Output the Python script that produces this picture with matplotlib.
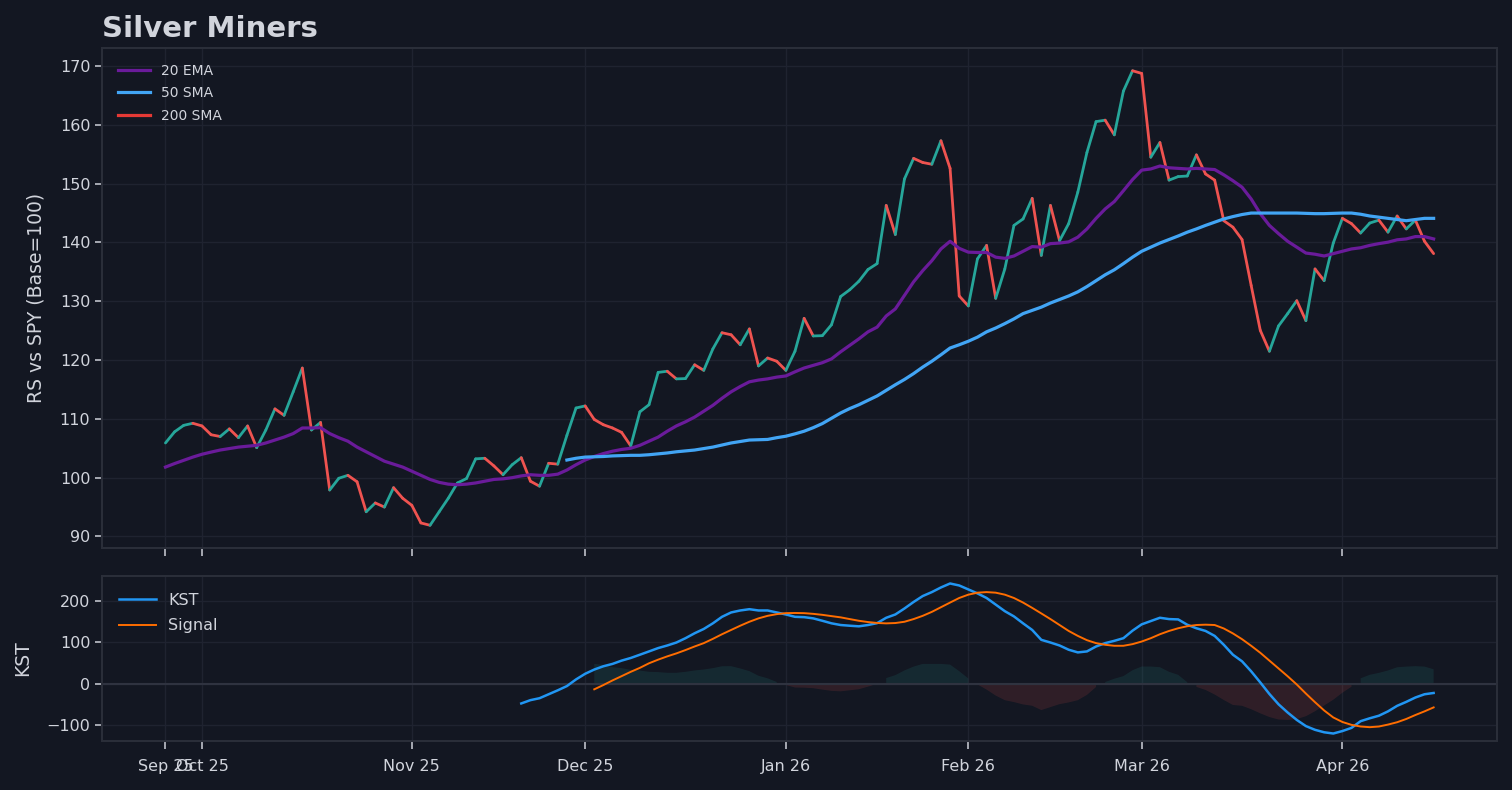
import numpy as np
import pandas as pd
import matplotlib
matplotlib.use("Agg")
import matplotlib.pyplot as plt

# trading days shown on the x axis (plotted by index, no gaps)
holidays = ['2025-11-27', '2025-12-25', '2026-01-01', '2026-01-19',
            '2026-02-16', '2026-04-03']
dates = pd.bdate_range('2025-09-25', periods=140, freq='C', holidays=holidays)

# relative strength vs SPY (base = 100)
rs = [
    105.9, 107.8, 108.9, 109.25, 108.8, 107.3, 107.0, 108.3, 106.8, 108.8,
    105.1, 108.1, 111.7, 110.6, 114.6, 118.65, 108.1, 109.4, 97.9, 99.9,
    100.4, 99.3, 94.2, 95.7, 95.0, 98.3, 96.5, 95.3, 92.3, 91.9,
    94.2, 96.5, 99.1, 99.85, 103.2, 103.3, 102.0, 100.5, 102.2, 103.4,
    99.4, 98.55, 102.45, 102.3, 107.2, 111.85, 112.2, 109.9, 109.0, 108.45,
    107.7, 105.4, 111.2, 112.4, 117.9, 118.1, 116.8, 116.85, 119.2, 118.25,
    121.9, 124.65, 124.3, 122.6, 125.3, 119.0, 120.35, 119.8, 118.25, 121.5,
    127.1, 124.1, 124.15, 126.0, 130.8, 131.95, 133.4, 135.4, 136.4, 146.3,
    141.35, 150.8, 154.3, 153.6, 153.3, 157.3, 152.6, 130.9, 129.2, 137.2,
    139.5, 130.5, 135.5, 142.9, 144.0, 147.5, 137.8, 146.3, 140.3, 143.2,
    148.55, 155.3, 160.55, 160.8, 158.3, 165.75, 169.2, 168.75, 154.5, 157.0,
    150.6, 151.2, 151.3, 154.9, 151.65, 150.6, 143.7, 142.6, 140.5, 132.7,
    125.05, 121.5, 125.8, 127.9, 130.1, 126.7, 135.5, 133.5, 139.9, 144.1,
    143.2, 141.6, 143.3, 143.8, 141.75, 144.5, 142.3, 143.8, 140.2, 138.1,
]

ema20 = [
    101.8, 102.4, 102.95, 103.5, 103.98, 104.35, 104.7, 104.95, 105.2, 105.35,
    105.5, 105.9, 106.4, 106.9, 107.5, 108.45, 108.45, 108.5, 107.5, 106.8,
    106.2, 105.2, 104.4, 103.6, 102.8, 102.3, 101.8, 101.1, 100.4, 99.7,
    99.2, 98.9, 98.8, 98.9, 99.1, 99.4, 99.7, 99.8, 100.0, 100.3,
    100.5, 100.4, 100.4, 100.6, 101.3, 102.2, 103.0, 103.6, 104.1, 104.5,
    104.8, 105.0, 105.5, 106.2, 106.9, 107.9, 108.8, 109.5, 110.3, 111.3,
    112.3, 113.5, 114.6, 115.5, 116.3, 116.6, 116.8, 117.1, 117.3, 118.0,
    118.65, 119.1, 119.55, 120.2, 121.4, 122.5, 123.6, 124.8, 125.6, 127.5,
    128.7, 131.0, 133.3, 135.2, 136.9, 138.9, 140.2, 139.0, 138.35, 138.3,
    138.3, 137.5, 137.3, 137.7, 138.5, 139.3, 139.2, 139.8, 139.9, 140.1,
    140.9, 142.3, 144.1, 145.7, 146.95, 148.8, 150.7, 152.3, 152.5, 153.0,
    152.7, 152.6, 152.5, 152.6, 152.5, 152.4, 151.5, 150.5, 149.4, 147.4,
    144.9, 142.9, 141.5, 140.2, 139.2, 138.2, 138.0, 137.7, 138.1, 138.5,
    138.9, 139.1, 139.5, 139.8, 140.05, 140.45, 140.6, 141.0, 141.0, 140.6,
]

sma50_start = 44
sma50 = [
    103.0, 103.3, 103.5, 103.55, 103.6, 103.7,
    103.75, 103.8, 103.8, 103.9, 104.05, 104.2, 104.4, 104.55, 104.7, 104.95,
    105.2, 105.55, 105.9, 106.15, 106.4, 106.45, 106.5, 106.8, 107.05, 107.45,
    107.9, 108.5, 109.2, 110.1, 111.0, 111.75, 112.4, 113.15, 113.9, 114.85,
    115.8, 116.7, 117.7, 118.8, 119.8, 120.9, 122.05, 122.6, 123.2, 123.9,
    124.8, 125.45, 126.2, 127.0, 127.9, 128.45, 129.0, 129.7, 130.3, 130.9,
    131.6, 132.5, 133.5, 134.5, 135.35, 136.4, 137.5, 138.5, 139.2, 139.9,
    140.5, 141.1, 141.75, 142.3, 142.9, 143.45, 144.0, 144.4, 144.75, 145.0,
    145.0, 145.0, 145.0, 145.0, 145.0, 144.95, 144.9, 144.9, 144.95, 145.0,
    145.0, 144.8, 144.5, 144.3, 144.1, 143.9, 143.7, 143.9, 144.1, 144.1,
]

kst_start = 39
kst = [
    -48,
    -40, -35.3, -25.7, -16.1, -5.8, 10.3, 24, 34.3, 42.3, 48,
    56, 62.4, 70.3, 78.3, 86.4, 92.7, 99.9, 110.4, 122.4, 132.8,
    146.5, 162.3, 172.9, 177.7, 180.8, 177.7, 177.7, 172.9, 168, 162.3,
    161.5, 158.5, 152.7, 146.5, 142.4, 140.7, 139.2, 142.4, 147.0, 160,
    168, 182.5, 198.3, 212.7, 222.3, 233.6, 243.2, 238.4, 228.8, 219.2,
    208, 192, 176, 163.3, 146.5, 130.4, 106.4, 99.9, 92.7, 82.4,
    75.9, 78.3, 90.3, 98.4, 104, 110.4, 128.7, 144, 152, 160,
    156.8, 156, 143, 134.5, 128, 116, 94.4, 70.3, 54.3, 30,
    3, -25, -50, -70, -88, -103, -112, -118, -121, -115,
    -107.3, -91, -84, -77.8, -67.2, -53.8, -44.2, -33.6, -25.7, -22.6,
]

signal_start = 47
signal = [
    -13.7, -3.3, 7.9,
    18.3, 28.8, 38.4, 49.5, 58.3, 66.3, 73.5, 81.6, 90.3, 98.4,
    108.8, 120, 130.4, 140.7, 150.3, 158.5, 164.7, 168.8, 171.2, 171.6,
    171.2, 169.5, 167.1, 164, 161, 156.8, 152.7, 149.6, 147.4, 146.4,
    147.2, 150.3, 156.8, 164.7, 174.3, 185.6, 196.9, 208, 216.1, 220.9,
    222.3, 220.9, 216.1, 208, 196.9, 184, 170.5, 156.8, 142.4, 128,
    116, 105.6, 98.4, 94.4, 92, 92, 96, 102.3, 110.4, 120,
    128, 134.5, 139.5, 142.4, 143.2, 142.4, 134, 122, 108, 92,
    75, 56, 37, 18, -2, -24, -45, -65, -82, -93,
    -100, -104, -105.6, -104, -99.3, -93.6, -85.7, -76.1, -67.2, -57.6,
]

BG = '#131722'
TEXT = '#d1d4dc'
SPINE = '#2a2e39'
GRID = '#1f2330'
UP = '#26a69a'
DOWN = '#ef5350'

fig = plt.figure(figsize=(15.12, 7.9), dpi=100, facecolor=BG)
ax1 = fig.add_axes([0.0675, 0.3063, 0.9226, 0.6329])
ax2 = fig.add_axes([0.0675, 0.062, 0.9226, 0.2089], sharex=ax1)

x = np.arange(len(rs))
rs = np.array(rs)

# RS line, green on up days and red on down days
for i in range(len(rs) - 1):
    col = UP if rs[i + 1] >= rs[i] else DOWN
    ax1.plot(x[i:i + 2], rs[i:i + 2], color=col, lw=2, solid_capstyle='round')

ax1.plot(x, ema20, color='#6a1b9a', lw=2.3, label='20 EMA')
ax1.plot(x[sma50_start:sma50_start + len(sma50)], sma50, color='#42a5f5',
         lw=2.3, label='50 SMA')
ax1.plot([], [], color='#e53935', lw=2.3, label='200 SMA')

# KST panel
kx = x[kst_start:kst_start + len(kst)]
sx = x[signal_start:signal_start + len(signal)]
kst = np.array(kst)
signal = np.array(signal)
hist = kst[signal_start - kst_start:] - signal
ax2.fill_between(sx, 0, hist, where=hist > 0, color=UP, alpha=0.13, lw=0)
ax2.fill_between(sx, 0, hist, where=hist < 0, color=DOWN, alpha=0.13, lw=0)
ax2.axhline(0, color='#2f3340', lw=1.5, zorder=1)
ax2.plot(kx, kst, color='#2196f3', lw=1.8, label='KST')
ax2.plot(sx, signal, color='#ff6d00', lw=1.4, label='Signal')

# month ticks at the first trading day of each month
months = dates.to_period('M')
tick_idx = [0] + [i for i in range(1, len(dates)) if months[i] != months[i - 1]]
tick_lbl = [dates[i].strftime('%b %y') for i in tick_idx]
ax2.set_xticks(tick_idx)
ax2.set_xticklabels(tick_lbl)

for ax in (ax1, ax2):
    ax.set_facecolor(BG)
    for s in ax.spines.values():
        s.set_color(SPINE)
        s.set_linewidth(1.5)
    ax.grid(True, color=GRID, lw=1)
    ax.set_axisbelow(True)
    ax.tick_params(colors='#b2b5be', labelcolor=TEXT, labelsize=11.5,
                   length=5, width=1.3)
    ax.tick_params(axis='x', length=6, pad=7)

ax1.tick_params(labelbottom=False)
ax1.set_yticks([90, 100, 110, 120, 130, 140, 150, 160, 170])
ax2.set_yticks([-100, 0, 100, 200])

ax1.set_ylabel('RS vs SPY (Base=100)', color=TEXT, fontsize=13.5, labelpad=10)
ax2.set_ylabel('KST', color=TEXT, fontsize=13.5, labelpad=10)
ax1.set_title('Silver Miners', loc='left', color=TEXT, fontsize=21,
              fontweight='bold', pad=8)

leg1 = ax1.legend(loc='upper left', frameon=False, fontsize=10,
                  handlelength=2.3, labelspacing=0.6, borderaxespad=0.75)
for t in leg1.get_texts():
    t.set_color(TEXT)
leg2 = ax2.legend(loc='upper left', frameon=False, fontsize=11.5,
                  handlelength=2.3, labelspacing=0.65, borderaxespad=0.65)
for t in leg2.get_texts():
    t.set_color(TEXT)

fig.savefig('out.png', dpi=100, facecolor=BG)
